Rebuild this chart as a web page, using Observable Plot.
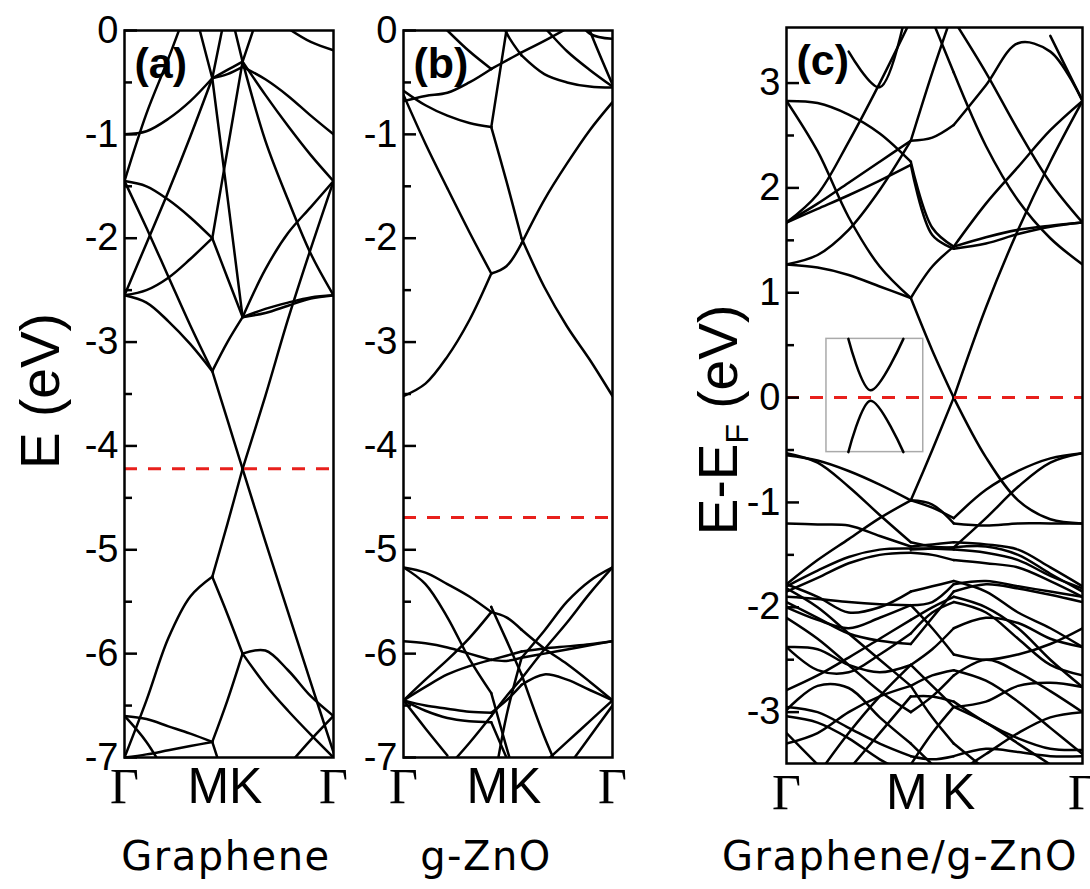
<!DOCTYPE html>
<html><head><meta charset="utf-8">
<script src="https://cdn.jsdelivr.net/npm/d3@7"></script>
<script src="https://cdn.jsdelivr.net/npm/@observablehq/plot@0.6"></script>
<style>
body{margin:0;background:#fff;}
#wrap{position:relative;width:1090px;height:889px;overflow:hidden;background:#fff;}
#wrap svg{position:absolute;top:0;background:transparent;}
.cap{position:absolute;top:836px;font-family:"DejaVu Sans",sans-serif;font-size:40px;letter-spacing:1.5px;color:#000;transform:translateX(-50%);white-space:nowrap;line-height:1;}
.ytitle{position:absolute;font-family:"Liberation Sans",Arial,sans-serif;font-size:55px;color:#000;transform:translate(-50%,-50%) rotate(-90deg);white-space:nowrap;line-height:1;}
.ytitle sub{font-size:32px;vertical-align:-0.35em;}
</style></head><body><div id="wrap"></div><script>
const n = null;
// k-path: Γ (0) → M (0.42) → K (0.565) → Γ (1)
const kGrid = [0, 0.105, 0.21, 0.315, 0.42, 0.4925, 0.565, 0.6738, 0.7825, 0.8913, 1.0];
const segments = [[0,1,2,3,4],[4,5,6],[6,7,8,9,10]];
const kLabelsGamma = [{k:0,t:"Γ"},{k:1,t:"Γ"}];
const kLabelM = [{k:0.42,t:"M"}];
const kLabelK = [{k:0.565,t:"K"}];

// (a) Graphene bands, E (eV)
const grapheneBands = [
  [-7.0,-6.45,-5.85,-5.45,-5.26,-4.75,-4.22,-3.52,-2.78,-2.1,-1.45],
  [-1.45,-1.9,-2.37,-2.84,-3.28,-3.75,-4.22,-4.92,-5.6,-6.28,-6.95],
  [-2.55,-2.5,-2.38,-2.2,-2.0,-2.38,-2.76,-2.68,-2.62,-2.57,-2.55],
  [-1.45,-1.5,-1.63,-1.8,-2.0,-1.15,-0.3,0.35,n,n,n],
  [-1.0,-0.97,-0.85,-0.68,-0.46,-0.38,-0.3,-1.06,-1.63,-2.15,-2.55],
  [-1.45,-0.8,-0.27,0.3,n,n,n,n,n,n,n],
  [n,n,n,0.35,-0.46,-1.6,-2.76,-2.3,-1.95,-1.7,-1.45],
  [n,n,n,n,n,n,n,n,0.02,-0.11,-0.19],
  [n,n,n,n,0.9,0.3,-0.3,-0.62,-0.92,-1.2,-1.45],
  [-2.55,-2.05,-1.55,-1.02,-0.46,0.25,0.9,n,n,n,n],
  [-2.55,-2.62,-2.8,-3.02,-3.28,-3.0,-2.76,-2.72,-2.65,-2.58,-2.55],
  [-6.6,-6.63,-6.7,-6.77,-6.85,-6.45,-6.0,-5.97,-6.16,-6.41,-6.6],
  [-7.0,-6.97,-6.93,-6.89,-6.85,-7.3,n,n,-7.08,-6.83,-6.6],
  [n,n,n,n,-5.26,-5.62,-6.0,-6.3,-6.55,-6.78,-7.0],
  [-6.6,-6.85,-7.2,n,n,n,n,n,n,n,n],
  [n,n,n,n,-0.46,-0.42,-0.35,-0.47,-0.63,-0.82,-1.0]
];
// (b) g-ZnO bands
const znoBands = [
  [-3.52,-3.4,-3.14,-2.79,-2.34,-2.27,-2.05,-1.63,-1.28,-0.96,-0.69],
  [-0.62,-1.09,-1.52,-1.94,-2.34,n,n,n,n,n,n],
  [-0.58,-0.72,-0.82,-0.89,-0.93,-1.45,-2.0,-2.47,-2.85,-3.17,-3.52],
  [n,n,n,n,-0.93,0.0,0.9,n,n,n,n],
  [-0.68,-0.63,-0.6,-0.5,-0.37,-0.29,-0.21,-0.1,0.02,n,n],
  [n,n,0.0,-0.2,-0.37,n,n,n,n,n,n],
  [n,n,n,n,0.4,-0.02,-0.24,-0.42,-0.5,-0.54,-0.55],
  [n,n,n,n,n,n,0.25,0.03,-0.2,-0.38,-0.54],
  [n,n,n,n,n,n,n,n,0.6,0.0,-0.52],
  [n,n,n,n,n,n,n,n,0.25,-0.03,-0.08],
  [-5.17,-5.22,-5.33,-5.45,-5.6,-5.65,-5.77,-5.95,-6.1,-6.27,-6.45],
  [-6.45,-6.25,-6.06,-5.85,-5.6,n,n,n,n,n,n],
  [n,n,n,n,-7.4,-6.6,-6.04,-5.78,-5.5,-5.3,-5.17],
  [-5.17,-5.33,-5.65,-6.05,-6.38,-6.9,-7.4,n,n,n,n],
  [-5.88,-5.9,-5.94,-6.0,-6.06,-6.07,-6.04,-6.0,-5.96,-5.92,-5.88],
  [-6.45,-6.32,-6.2,-6.12,-6.06,-6.02,-5.98,-5.95,-5.93,-5.91,-5.88],
  [-6.45,-6.5,-6.53,-6.56,-6.57,-6.45,-6.3,-6.2,-6.25,-6.35,-6.45],
  [-6.45,-6.55,-6.62,-6.65,-6.66,-7.0,n,n,n,n,n],
  [-6.45,-6.72,-6.98,n,n,n,n,n,n,n,n],
  [n,n,n,n,n,n,n,-7.05,-6.85,-6.65,-6.45],
  [n,n,n,n,n,n,n,n,-7.1,-6.8,-6.5],
  [n,n,-7.1,-6.86,-6.6,-6.41,-6.24,-5.96,-5.7,-5.42,-5.17],
  [n,n,n,n,-5.55,-5.87,-6.2,-6.8,-7.3,n,n]
];
// (c) Graphene/g-ZnO bands, E-EF (eV)
const hetUpper = [
  [2.83,2.81,2.7,2.52,2.25,1.62,1.44,1.53,1.6,1.64,1.67],
  [1.67,1.8,1.93,2.07,2.22,1.55,1.42,1.47,1.56,1.63,1.67],
  [2.83,2.35,1.72,1.25,0.95,0.45,0.0,-0.57,-0.98,-1.16,-1.2],
  [-0.55,-0.6,-0.7,-0.83,-0.98,-0.5,0.0,0.86,1.6,2.25,2.83],
  [1.67,1.85,2.05,2.25,2.45,3.1,3.7,n,n,n,n],
  [1.27,1.36,1.6,1.98,2.45,2.48,2.6,2.98,3.38,3.3,2.83],
  [1.67,1.94,2.44,3.0,3.6,n,n,n,n,n,n],
  [n,n,3.3,2.96,3.9,n,n,n,n,n,n],
  [n,n,n,n,n,3.6,3.1,2.4,1.88,1.52,1.27],
  [n,n,n,n,n,n,3.6,3.1,2.55,2.05,1.67],
  [n,n,n,n,n,n,n,n,n,3.45,2.83],
  [1.27,1.24,1.17,1.06,0.95,1.25,1.44,1.85,2.2,2.55,2.83]
];
const hetLower = [
  [-0.53,-0.62,-0.85,-1.12,-1.38,-1.42,-1.43,-1.42,-1.5,-1.68,-1.85],
  [-1.78,-1.55,-1.35,-1.15,-0.98,-1.02,-1.2,-1.22,-1.2,-1.2,-1.2],
  [-1.2,-1.21,-1.22,-1.32,-1.42,-1.4,-1.38,-1.4,-1.45,-1.62,-1.8],
  [-1.8,-1.65,-1.52,-1.45,-1.44,-1.44,-1.45,-1.48,-1.55,-1.7,-1.82],
  [-1.85,-1.72,-1.58,-1.5,-1.48,-1.5,-1.55,-1.58,-1.62,-1.75,-1.9],
  [n,n,n,n,-0.98,-1.05,-1.15,-0.88,-0.7,-0.58,-0.53],
  [n,n,n,n,-1.45,-1.44,-1.43,-1.15,-0.85,-0.62,-0.53],
  [-1.9,-1.92,-1.95,-1.97,-1.98,-1.95,-1.78,-1.75,-1.8,-1.85,-1.9],
  [-1.95,-2.1,-2.25,-2.32,-2.35,-2.1,-1.85,-1.78,-1.82,-1.88,-1.95],
  [-2.0,-2.12,-2.2,-2.1,-1.98,-2.2,-2.45,-2.5,-2.45,-2.35,-2.2],
  [-2.38,-2.4,-2.55,-2.62,-2.55,-2.4,-2.2,-2.1,-2.15,-2.3,-2.38],
  [-2.38,-2.6,-2.62,-2.45,-2.25,-2.05,-1.95,-2.05,-2.3,-2.55,-2.65],
  [-2.79,-2.65,-2.48,-2.3,-2.12,-2.0,-1.9,-2.0,-2.2,-2.5,-2.76],
  [-2.98,-2.75,-2.77,-3.05,-3.3,-3.5,n,n,n,n,n],
  [-3.04,-3.1,-3.25,-3.45,-3.6,n,n,n,n,n,n],
  [-3.2,-3.5,n,n,n,n,n,n,n,n,n],
  [n,-3.6,-3.2,-2.85,-2.55,-2.75,-2.95,-2.9,-2.75,-2.72,-2.76],
  [n,n,-3.55,-3.2,-2.85,-2.85,-2.9,-3.1,-3.25,-3.35,-3.36],
  [-2.1,-2.3,-2.55,-2.8,-3.0,-2.85,-2.65,-2.5,-2.62,-2.8,-3.0],
  [-1.82,-2.0,-2.25,-2.5,-2.75,-3.05,-3.3,-3.55,n,n,n],
  [n,n,n,n,-3.5,-3.2,-2.95,-3.1,-3.3,-3.5,n],
  [n,n,n,n,n,n,-3.6,-3.4,-3.2,-3.05,-3.0],
  [-3.3,-3.2,-3.0,-2.85,-2.75,-2.65,-2.6,-2.7,-2.9,-3.15,-3.4],
  [-2.95,-3.0,-3.15,-3.3,-3.42,-3.45,-3.42,-3.35,-3.38,-3.42,-3.42],
  [-1.78,-1.9,-2.05,-2.0,-1.85,-1.8,-1.75,-1.85,-2.05,-2.2,-2.38]
];
// Inset (magnified Dirac cone) in panel (c)
const insetBox = [0.135, 0.462, -0.52, 0.56];
const insetK = [0.209, 0.284, 0.395];
const insetUpper = [0.56, 0.07, 0.56];
const insetLower = [-0.52, -0.03, -0.52];

const fermiA = -4.22, fermiB = -4.69, fermiC = 0;
const ticksAB = [0,-1,-2,-3,-4,-5,-6,-7];
const minorAB = [-0.5,-1.5,-2.5,-3.5,-4.5,-5.5,-6.5];
const ticksC = [3,2,1,0,-1,-2,-3];
const minorC = [2.5,1.5,0.5,-0.5,-1.5,-2.5];

function bandRows(bands){
  const rows = [];
  bands.forEach((b,i)=>segments.forEach((seg,s)=>seg.forEach(j=>rows.push({id:i*3+s,k:kGrid[j],E:b[j]}))));
  return rows;
}

function panel(cfg){
  const frameW = cfg.width - cfg.ml - cfg.mr;
  const marks = [
    Plot.line(bandRows(cfg.bands), {x:"k", y:"E", z:"id", curve:"catmull-rom", stroke:"#000", strokeWidth:2.5, clip:true}),
    ...(cfg.extra || []),
    Plot.ruleY([cfg.fermi], {stroke:"#e8201c", strokeWidth:3, strokeDasharray:"13,11"}),
    Plot.tickY(cfg.major, {y:d=>d, insetRight:frameW-13, stroke:"#000", strokeWidth:2.5}),
    Plot.tickY(cfg.minor, {y:d=>d, insetRight:frameW-8, stroke:"#000", strokeWidth:2.5}),
    Plot.text(cfg.major, {y:d=>d, text:d=>String(d), frameAnchor:"left", textAnchor:"end", dx:-6, fontSize:38, fontFamily:"Liberation Sans", fill:"#000"}),
    Plot.frame({stroke:"#000", strokeWidth:2.5}),
    Plot.text(kLabelsGamma, {x:"k", text:"t", frameAnchor:"bottom", lineAnchor:"top", dy:10, fontSize:50, fontFamily:"Liberation Serif", fill:"#000"}),
    Plot.text(kLabelM, {x:"k", text:"t", dx:-4, frameAnchor:"bottom", lineAnchor:"top", dy:10, fontSize:50, fontFamily:"Liberation Sans", fill:"#000"}),
    Plot.text(kLabelK, {x:"k", text:"t", dx:cfg.kdx, frameAnchor:"bottom", lineAnchor:"top", dy:10, fontSize:50, fontFamily:"Liberation Sans", fill:"#000"}),
    Plot.text([cfg.label], {frameAnchor:"top-left", textAnchor:"start", lineAnchor:"top", dx:10, dy:17, fontSize:43, fontWeight:"bold", fontFamily:"Liberation Sans", fill:"#000"})
  ];
  const svg = Plot.plot({
    width: cfg.width, height: 830,
    marginLeft: cfg.ml, marginRight: cfg.mr, marginTop: cfg.mt, marginBottom: cfg.mb,
    x: {domain:[0,1], axis:null},
    y: {domain: cfg.yDomain, axis:null},
    style: {background:"transparent", overflow:"visible"},
    marks
  });
  svg.style.left = cfg.left + "px";
  return svg;
}

const wrap = document.getElementById("wrap");
wrap.appendChild(panel({bands:grapheneBands, yDomain:[-7,0], major:ticksAB, minor:minorAB, fermi:fermiA, label:"(a)", kdx:3,
  left:0, width:345, ml:124, mr:12, mt:30, mb:73}));
wrap.appendChild(panel({bands:znoBands, yDomain:[-7,0], major:ticksAB, minor:minorAB, fermi:fermiB, label:"(b)", kdx:3,
  left:345, width:280, ml:58, mr:13, mt:30, mb:73}));
const insetRows = insetK.map((k,i)=>({k, up:insetUpper[i], lo:insetLower[i]}));
wrap.appendChild(panel({bands:hetUpper.concat(hetLower), yDomain:[-3.49,3.53], major:ticksC, minor:minorC, fermi:fermiC, label:"(c)", kdx:5,
  left:625, width:465, ml:161, mr:8, mt:27, mb:67,
  extra:[
    Plot.rect([insetBox], {x1:d=>d[0], x2:d=>d[1], y1:d=>d[2], y2:d=>d[3], fill:"#fff", stroke:"#aaa", strokeWidth:1.5}),
    Plot.line(insetRows, {x:"k", y:"up", stroke:"#000", strokeWidth:2.5, curve:"catmull-rom"}),
    Plot.line(insetRows, {x:"k", y:"lo", stroke:"#000", strokeWidth:2.5, curve:"catmull-rom"})
  ]}));

function addDiv(cls, html, x, y){
  const d = document.createElement("div");
  d.className = cls; d.innerHTML = html;
  d.style.left = x + "px"; d.style.top = y + "px";
  wrap.appendChild(d);
}
addDiv("ytitle", "E (eV)", 40, 391);
addDiv("ytitle", "E-E<sub>F</sub> (eV)", 722, 420);
addDiv("cap", "Graphene", 226, 836);
addDiv("cap", "g-ZnO", 486, 836);
addDiv("cap", "Graphene/g-ZnO", 900, 836);
</script></body></html>
